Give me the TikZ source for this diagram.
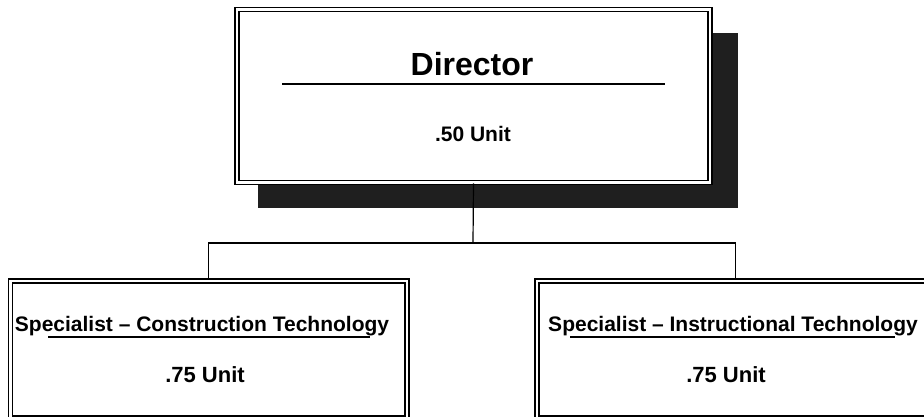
\documentclass[tikz,border=0pt]{standalone}
\usepackage{fontspec}
\setmainfont{Liberation Sans}
\usetikzlibrary{positioning,shadows}

\tikzset{
  post/.style={draw, double, line width=1.5pt, double distance=2.2pt, fill=white,
    inner sep=0pt, minimum width=396.5pt, minimum height=137pt},
  boss/.style={post, minimum width=473pt, minimum height=173pt,
    drop shadow={shadow xshift=24pt, shadow yshift=-24pt, shadow scale=1.015,
      fill=black!88, opacity=1}},
  link/.style={line width=1.2pt},
  rule/.style={line width=1.3pt},
  jobtitle/.style={anchor=base, font=\bfseries\fontsize{21}{24}\selectfont},
  unit/.style={anchor=base, font=\bfseries\fontsize{22}{25}\selectfont}
}

\begin{document}
\begin{tikzpicture}[x=1pt, y=-1pt]
      \useasboundingbox (0,0) rectangle (924,416);
      \clip (0,0) rectangle (924,416);
      % boxes
      \node[boss] (dir) at (473.5,96) {};
      \node[post] (cons) at (208.75,349.5) {};
      \node[post, right=128.5pt of cons] (inst) {};
      % director
      \node[anchor=base, font=\bfseries\fontsize{32}{36}\selectfont] (dirname) at (472,75) {Director};
      \draw[rule] (282,84) -- (665,84);
      \node[anchor=base, font=\bfseries\fontsize{21}{24}\selectfont] (dirunit) at (473,141) {.50 Unit};
      % specialists
      \node[jobtitle] (consname) at (202,331) {Specialist -- Construction Technology};
      \draw[rule] (48,337) -- (370,337);
      \node[unit] (consunit) at (205,382) {.75 Unit};
      \node[jobtitle] (instname) at (733,331) {Specialist -- Instructional Technology};
      \draw[rule] (570,337) -- (895,337);
      \node[unit] (instunit) at (726,382) {.75 Unit};
      % lines
      \coordinate (split) at (473,243);
      \draw[link] (dir.south) -- (split);
      \draw[link] (split) -| (cons.north);
      \draw[link] (split) -| (inst.north);
\end{tikzpicture}
\end{document}
